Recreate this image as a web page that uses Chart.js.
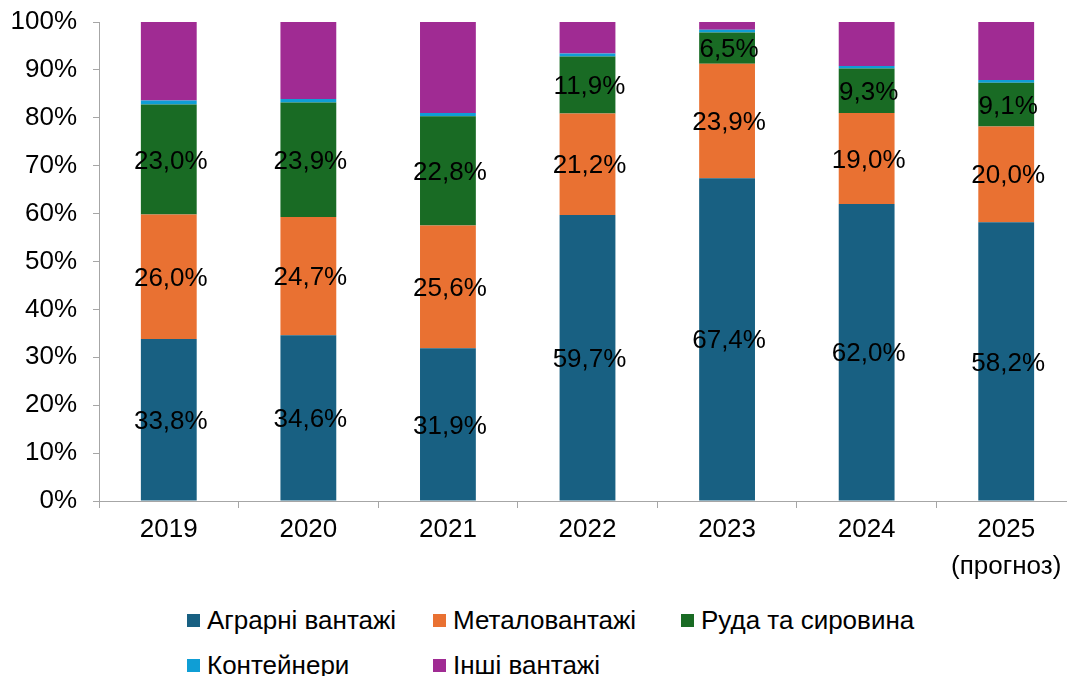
<!DOCTYPE html>
<html>
<head>
<meta charset="utf-8">
<script src="https://cdn.jsdelivr.net/npm/chart.js@4"></script>
<style>
  body { margin: 0; overflow: hidden; background: #fff; font-family: "Liberation Sans", Arial, sans-serif; }
  #wrap { position: relative; width: 1080px; height: 676px; }
  #legenda div { position: absolute; font-size: 26px; color: #000; white-space: nowrap; line-height: 30px; }
  #legenda span { display: inline-block; width: 13px; height: 13px; margin-right: 7px; vertical-align: 2px; }
</style>
</head>
<body>
<div id="wrap">
  <div style="width:1080px;height:590px"><canvas id="grafico"></canvas></div>
  <div id="legenda"></div>
</div>
<script>
// Categorias (anos)
var anos = ["2019", "2020", "2021", "2022", "2023", "2024", ["2025", "(прогноз)"]];

// Participação de cada tipo de carga (%)
var agrarni = [33.8, 34.6, 31.9, 59.7, 67.4, 62.0, 58.2];
var metalo = [26.0, 24.7, 25.6, 21.2, 23.9, 19.0, 20.0];
var ruda = [23.0, 23.9, 22.8, 11.9, 6.5, 9.3, 9.1];
var konteinery = [0.8, 0.7, 0.7, 0.6, 0.6, 0.5, 0.6];
var inshi = [16.4, 16.1, 19.0, 6.6, 1.6, 9.2, 12.1];

// Rótulos do eixo Y
var ticksY = [0, 10, 20, 30, 40, 50, 60, 70, 80, 90, 100];

var fonte = '"Liberation Sans", Arial, sans-serif';

var series = [
    { label: "Аграрні вантажі", data: agrarni, backgroundColor: "#186082", rotulo: true },
    { label: "Металовантажі", data: metalo, backgroundColor: "#E97132", rotulo: true },
    { label: "Руда та сировина", data: ruda, backgroundColor: "#196B24", rotulo: true },
    { label: "Контейнери", data: konteinery, backgroundColor: "#0F9ED5", rotulo: false },
    { label: "Інші вантажі", data: inshi, backgroundColor: "#A02B93", rotulo: false }
];

// Plugin simples para escrever os valores no centro dos segmentos
var rotulosPlugin = {
    id: "rotulos",
    afterDatasetsDraw: function(chart) {
        var ctx = chart.ctx;
        ctx.save();
        ctx.font = "26px " + fonte;
        ctx.fillStyle = "#000";
        ctx.textAlign = "center";
        ctx.textBaseline = "middle";
        chart.data.datasets.forEach(function(ds, i) {
            if (!ds.rotulo) return;
            chart.getDatasetMeta(i).data.forEach(function(bar, j) {
                var p = bar.getCenterPoint();
                ctx.fillText(ds.data[j].toFixed(1).replace(".", ",") + "%", p.x + 2, p.y + 2);
            });
        });
        ctx.restore();
    }
};

var ctx = document.getElementById("grafico").getContext("2d");

var myChart = new Chart(ctx, {
    type: "bar",
    data: {
        labels: anos,
        datasets: series.map(function(s) {
            return {
                label: s.label,
                data: s.data,
                backgroundColor: s.backgroundColor,
                rotulo: s.rotulo,
                barPercentage: 0.4,
                categoryPercentage: 1.0
            };
        })
    },
    options: {
        responsive: true,
        maintainAspectRatio: false,
        animation: false,
        layout: { padding: { top: 22, right: 4, left: 0, bottom: 0 } },
        plugins: {
            legend: { display: false },
            tooltip: { enabled: false }
        },
        scales: {
            x: {
                stacked: true,
                afterFit: function(scale) { scale.height = 89; },
                grid: { drawOnChartArea: false, drawTicks: true, tickLength: 7, color: "#A6A6A6", offset: true },
                border: { color: "#A6A6A6", width: 1 },
                ticks: {
                    color: "#000",
                    padding: 4,
                    maxRotation: 0,
                    font: { family: fonte, size: 26, lineHeight: 1.4 }
                }
            },
            y: {
                stacked: true,
                min: 0,
                max: 100,
                afterFit: function(scale) {
                    scale.width = 99;
                    scale.paddingTop = 0;
                    scale.paddingBottom = 0;
                },
                afterBuildTicks: function(scale) {
                    scale.ticks = ticksY.map(function(v) { return { value: v }; });
                },
                grid: { drawOnChartArea: false, drawTicks: true, tickLength: 6, color: "#A6A6A6" },
                border: { color: "#A6A6A6", width: 1 },
                ticks: {
                    color: "#000",
                    padding: 16,
                    font: { family: fonte, size: 26 },
                    callback: function(v) { return v + "%"; }
                }
            }
        }
    },
    plugins: [rotulosPlugin]
});

// Legenda em HTML, em colunas alinhadas como no original
var colunas = [187, 433, 681];
var linhas = [605, 650];
var legenda = document.getElementById("legenda");
series.forEach(function(s, i) {
    var item = document.createElement("div");
    item.style.left = colunas[i % 3] + "px";
    item.style.top = linhas[Math.floor(i / 3)] + "px";
    item.innerHTML = '<span style="background:' + s.backgroundColor + '"></span>' + s.label;
    legenda.appendChild(item);
});
</script>
</body>
</html>
